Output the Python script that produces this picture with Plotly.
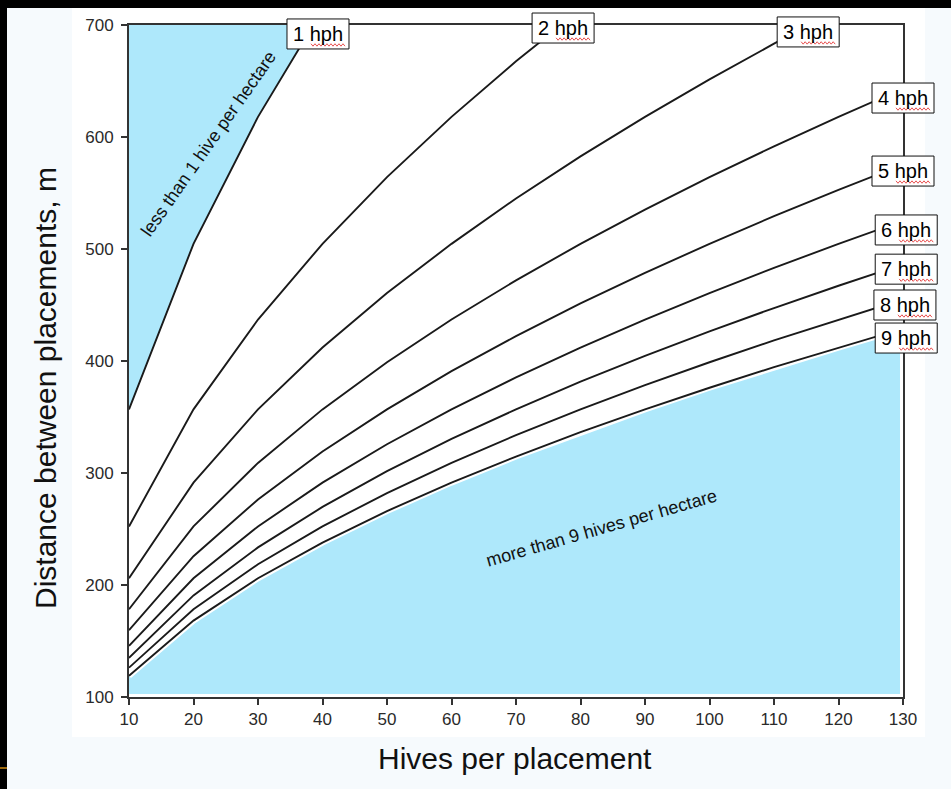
import plotly.graph_objects as go

# ---------------- data ----------------
HIVES = [10, 20, 30, 40, 50, 60, 70, 80, 90, 100, 110, 120, 130]

D_1HPH = [356.8, 504.6, 618.0, 713.7]
D_2HPH = [252.3, 356.8, 437.0, 504.6, 564.2, 618.0, 667.6, 713.7]
D_3HPH = [206.0, 291.4, 356.8, 412.0, 460.7, 504.6, 545.1, 582.7, 618.0, 651.5, 683.3, 713.7]
D_4HPH = [178.4, 252.3, 309.0, 356.8, 398.9, 437.0, 472.0, 504.6, 535.2, 564.2, 591.7, 618.0, 643.3]
D_5HPH = [159.6, 225.7, 276.4, 319.2, 356.8, 390.9, 422.2, 451.4, 478.7, 504.6, 529.3, 552.8, 575.4]
D_6HPH = [145.7, 206.0, 252.3, 291.4, 325.7, 356.8, 385.4, 412.0, 437.0, 460.7, 483.1, 504.6, 525.2]
D_7HPH = [134.9, 190.7, 233.6, 269.7, 301.6, 330.4, 356.8, 381.5, 404.6, 426.5, 447.3, 467.2, 486.3]
D_8HPH = [126.2, 178.4, 218.5, 252.3, 282.1, 309.0, 333.8, 356.8, 378.5, 398.9, 418.4, 437.0, 454.9]
D_9HPH = [118.9, 168.2, 206.0, 237.9, 266.0, 291.4, 314.7, 336.4, 356.8, 376.1, 394.5, 412.0, 428.9]

SERIES = [D_1HPH, D_2HPH, D_3HPH, D_4HPH, D_5HPH, D_6HPH, D_7HPH, D_8HPH, D_9HPH]
SERIES_LABELS = ["1 hph", "2 hph", "3 hph", "4 hph", "5 hph", "6 hph", "7 hph", "8 hph", "9 hph"]

X_TICKS = [10, 20, 30, 40, 50, 60, 70, 80, 90, 100, 110, 120, 130]
Y_TICKS = [100, 200, 300, 400, 500, 600, 700]

X_TITLE = "Hives per placement"
Y_TITLE = "Distance between placements, m"
LOW_REGION_TEXT = "less than 1 hive per hectare"
HIGH_REGION_TEXT = "more than 9 hives per hectare"

# ---------------- layout constants ----------------
W, H = 951, 789
ML, MR, MT, MB = 129, 48, 25, 92
PW, PH = W - ML - MR, H - MT - MB
X_MIN, X_MAX = X_TICKS[0], X_TICKS[-1]
Y_MIN, Y_MAX = Y_TICKS[0], Y_TICKS[-1]

BLUE = "#AEE8FB"
FONT = "Liberation Sans, Arial, sans-serif"

# label anchor positions (data coordinates), one per curve
LABEL_POS = [(39.3, 692.0), (77.3, 697.3), (115.3, 693.8), (130.0, 634.8),
             (130.0, 569.6), (130.5, 517.0), (130.5, 482.0), (130.3, 450.0),
             (130.5, 420.5)]
BOX_W, BOX_H = 62, 30


def px_x(px):
    return (px - ML) / PW


def px_y(py):
    return (H - MB - py) / PH


def data_xp(x):
    return (x - X_MIN) / (X_MAX - X_MIN)


def data_yp(y):
    return (y - Y_MIN) / (Y_MAX - Y_MIN)


def squiggle(x0_px, x1_px, y_px, amp=1.2, step=2.0):
    """Spell-check style red wavy underline as an SVG path in paper coords."""
    pts = []
    x = x0_px
    up = True
    while x <= x1_px:
        yy = y_px - amp if up else y_px + amp
        pts.append((px_x(x), px_y(yy)))
        up = not up
        x += step
    return "M " + " L ".join(f"{a:.5f},{b:.5f}" for a, b in pts)


fig = go.Figure()

# region above the 1 hph curve
fig.add_trace(go.Scatter(
    x=[X_MIN] + HIVES[:len(D_1HPH)], y=[Y_MAX] + D_1HPH,
    mode="lines", fill="toself", fillcolor=BLUE, line=dict(width=0),
    hoverinfo="skip", showlegend=False))

# region below the 9 hph curve
fig.add_trace(go.Scatter(
    x=HIVES + [X_MAX, X_MIN], y=D_9HPH + [Y_MIN, Y_MIN],
    mode="lines", fill="toself", fillcolor=BLUE, line=dict(width=0),
    hoverinfo="skip", showlegend=False))
fig.add_trace(go.Scatter(
    x=HIVES + [X_MAX, X_MIN], y=D_9HPH + [Y_MIN, Y_MIN],
    mode="lines", line=dict(color="white", width=6),
    hoverinfo="skip", showlegend=False))

for name, d in zip(SERIES_LABELS, SERIES):
    fig.add_trace(go.Scatter(
        x=HIVES[:len(d)], y=d, mode="lines", name=name,
        line=dict(color="#1a1a1a", width=1.9), showlegend=False))

annotations = []
label_shapes = []
for name, (ax, ay) in zip(SERIES_LABELS, LABEL_POS):
    xp, yp = data_xp(ax), data_yp(ay)
    cx = ML + xp * PW
    cy = MT + (1 - yp) * PH
    # white label box with black border
    label_shapes.append(dict(
        type="rect", xref="paper", yref="paper", layer="above",
        x0=px_x(cx - BOX_W / 2), x1=px_x(cx + BOX_W / 2),
        y0=px_y(cy + BOX_H / 2), y1=px_y(cy - BOX_H / 2),
        fillcolor="white", line=dict(color="#111", width=1)))
    # red wavy spell-check underline under "hph"
    label_shapes.append(dict(
        type="path", xref="paper", yref="paper", layer="above",
        path=squiggle(cx - 7, cx + 27, cy + 11),
        line=dict(color="#E85050", width=1)))
    annotations.append(dict(
        x=xp, y=yp, xref="paper", yref="paper", text=name,
        showarrow=False,
        font=dict(family=FONT, size=20, color="black"),
        xanchor="center", yanchor="middle"))

annotations += [
    dict(x=22.3, y=593.8, xref="x", yref="y", text=LOW_REGION_TEXT,
         showarrow=False, textangle=-55,
         font=dict(family=FONT, size=18, color="#111")),
    dict(x=83.3, y=250.9, xref="x", yref="y", text=HIGH_REGION_TEXT,
         showarrow=False, textangle=-16,
         font=dict(family=FONT, size=18, color="#111")),
    dict(x=px_x(514.5), y=px_y(758), xref="paper", yref="paper", text=X_TITLE,
         showarrow=False, xanchor="center", yanchor="middle",
         font=dict(family=FONT, size=30, color="#111")),
    dict(x=px_x(45), y=px_y(388), xref="paper", yref="paper", text=Y_TITLE,
         showarrow=False, xanchor="center", yanchor="middle", textangle=-90,
         font=dict(family=FONT, size=30, color="#111")),
]

shapes = [
    # white slide panel behind the chart
    dict(type="rect", xref="paper", yref="paper", layer="below",
         x0=px_x(72), x1=px_x(925), y0=px_y(737), y1=px_y(8),
         fillcolor="white", line=dict(width=0)),
    # black screen edges
    dict(type="rect", xref="paper", yref="paper", layer="above",
         x0=px_x(0), x1=px_x(W), y0=px_y(8), y1=px_y(0),
         fillcolor="black", line=dict(width=0)),
    dict(type="rect", xref="paper", yref="paper", layer="above",
         x0=px_x(0), x1=px_x(7), y0=px_y(H), y1=px_y(0),
         fillcolor="black", line=dict(width=0)),
    dict(type="line", xref="paper", yref="paper", layer="above",
         x0=px_x(0), x1=px_x(7), y0=px_y(768), y1=px_y(768),
         line=dict(color="#D08A10", width=1.5)),
] + label_shapes

fig.update_layout(
    width=W, height=H,
    margin=dict(l=ML, r=MR, t=MT, b=MB, pad=0),
    paper_bgcolor="#F6FAFD", plot_bgcolor="white",
    showlegend=False,
    annotations=annotations, shapes=shapes,
    font=dict(family=FONT),
)
fig.update_xaxes(
    range=[X_MIN, X_MAX], tickvals=X_TICKS, ticktext=[str(v) for v in X_TICKS],
    showgrid=False, zeroline=False, showline=True, mirror=True,
    linecolor="#333", linewidth=2, ticks="outside", ticklen=6, tickwidth=2,
    tickcolor="#333", tickfont=dict(family=FONT, size=17, color="#2a2a2a"))
fig.update_yaxes(
    range=[Y_MIN, Y_MAX], tickvals=Y_TICKS, ticktext=[str(v) for v in Y_TICKS],
    showgrid=False, zeroline=False, showline=True, mirror=True,
    linecolor="#333", linewidth=2, ticks="outside", ticklen=6, tickwidth=2,
    tickcolor="#333", tickfont=dict(family=FONT, size=17, color="#2a2a2a"),
    ticklabelstandoff=4)

fig.write_html(
    "out.html",
    config={"displayModeBar": False},
    post_script="document.body.style.margin='0';document.body.style.overflow='hidden';")
